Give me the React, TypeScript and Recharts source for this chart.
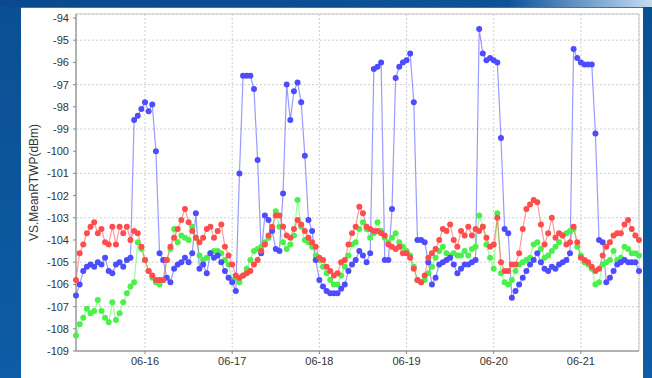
import React from "react";
import { LineChart, Line, XAxis, YAxis, CartesianGrid, ReferenceArea } from "recharts";

// hourly samples, first one at 06-15 05:00 (hour 5 counted from 06-15 00:00)
const FIRST_HOUR = 5;

const blueRtwp = [
  -106.5, -106.0, -105.4, -105.2, -105.1, -105.2, -105.0, -105.1, -104.8, -105.4,
  -105.5, -105.1, -105.0, -105.2, -104.9, -104.8, -98.6, -98.4, -98.1, -97.8,
  -98.2, -97.9, -100.0, -104.6, -104.9, -105.7, -105.9, -105.3, -105.1, -105.0,
  -104.8, -105.0, -104.6, -102.8, -105.3, -105.1, -105.5, -104.6, -104.8, -104.7,
  -105.0, -105.4, -105.7, -105.9, -106.3, -101.0, -96.6, -96.6, -96.6, -97.2,
  -100.4, -104.6, -102.9, -103.1, -103.6, -104.4, -104.5, -101.9, -97.0, -98.6,
  -97.3, -96.9, -97.8, -100.2, -103.1, -103.6, -104.9, -105.8, -106.1, -106.3,
  -106.4, -106.4, -106.4, -106.2, -106.0, -105.4, -105.1, -104.9, -104.5, -104.7,
  -105.0, -104.6, -96.3, -96.2, -96.0, -104.9, -104.9, -102.6, -96.7, -96.2,
  -96.0, -95.9, -95.6, -97.8, -104.0, -104.0, -104.1, -105.0, -106.0, -105.7,
  -105.1, -105.0, -104.9, -104.8, -105.1, -105.5, -105.3, -105.1, -105.1, -105.0,
  -104.9, -94.5, -95.6, -95.9, -95.8, -95.9, -96.0, -99.4, -103.5, -103.7,
  -106.6, -106.3, -106.0, -105.7, -105.4, -105.1, -104.9, -104.6, -105.0, -105.3,
  -105.4, -105.2, -105.3, -105.1, -105.0, -104.9, -104.6, -95.4, -95.8, -96.0,
  -96.1, -96.1, -96.1, -99.2, -104.0, -104.1, -105.9, -105.7, -105.4, -105.1,
  -105.0, -104.9, -105.0, -105.0, -105.0, -105.4,
];

const redRtwp = [
  -105.8, -104.6, -104.2, -103.7, -103.4, -103.2, -103.7, -103.5, -104.1, -104.2,
  -103.4, -104.2, -103.4, -103.7, -103.4, -104.0, -103.6, -103.7, -104.3, -104.9,
  -105.4, -105.6, -105.8, -105.8, -105.8, -104.9, -104.3, -103.9, -103.5, -103.1,
  -102.6, -103.2, -103.6, -103.9, -104.1, -103.9, -103.5, -103.4, -103.9, -103.6,
  -103.3, -104.3, -104.7, -105.1, -105.6, -105.7, -105.6, -105.5, -105.4, -105.1,
  -104.9, -104.5, -104.2, -103.8, -103.4, -102.9, -102.9, -103.4, -103.8, -103.9,
  -103.5, -103.1, -103.3, -103.6, -103.9, -104.1, -104.3, -104.8, -104.9, -105.2,
  -105.4, -105.6, -105.5, -105.0, -104.9, -104.2, -103.7, -103.4, -102.5, -102.8,
  -103.4, -103.5, -103.6, -103.6, -103.7, -103.8, -104.2, -104.3, -104.4, -104.3,
  -104.6, -104.6, -104.8, -105.3, -105.8, -105.9, -105.6, -104.8, -104.6, -104.4,
  -104.0, -103.5, -103.6, -103.3, -104.0, -104.3, -103.6, -103.8, -103.4, -103.8,
  -103.5, -103.6, -103.4, -103.9, -104.3, -104.2, -103.0, -105.0, -105.4, -105.4,
  -105.1, -105.1, -104.6, -103.5, -102.6, -102.4, -102.2, -102.3, -103.3, -104.2,
  -103.7, -103.0, -103.9, -103.7, -103.8, -104.2, -104.1, -103.4, -104.1, -104.8,
  -104.9, -105.0, -105.2, -105.4, -105.3, -104.7, -104.3, -104.1, -103.8, -103.7,
  -103.7, -103.3, -103.1, -103.5, -103.8, -104.0,
];

const greenRtwp = [
  -108.3, -107.8, -107.5, -107.1, -107.3, -107.2, -106.7, -107.2, -107.5, -107.7,
  -106.8, -107.6, -107.3, -106.8, -106.4, -106.1, -105.9, -104.1, -104.4, -104.9,
  -105.4, -105.7, -105.9, -106.0, -105.8, -104.9, -104.4, -103.5, -104.1, -103.8,
  -103.9, -104.0, -103.4, -103.9, -104.7, -104.9, -104.8, -104.6, -104.5, -104.5,
  -104.6, -104.9, -105.1, -105.8, -105.7, -105.9, -105.6, -105.3, -104.9, -104.5,
  -104.4, -104.3, -104.1, -103.9, -103.5, -102.7, -103.4, -104.1, -104.4, -104.2,
  -103.8, -102.2, -103.4, -104.0, -104.1, -104.3, -104.7, -104.9, -105.2, -105.5,
  -105.8, -106.0, -106.0, -105.6, -105.2, -104.7, -104.2, -104.1, -103.5, -103.2,
  -103.5, -103.9, -103.7, -103.2, -103.6, -103.9, -104.1, -103.9, -103.7, -104.1,
  -104.3, -104.5, -104.7, -105.2, -105.8, -105.9, -105.8, -105.5, -105.2, -104.8,
  -104.5, -104.3, -104.6, -104.7, -104.6, -104.7, -104.7, -104.5, -104.7, -104.4,
  -104.3, -102.9, -103.4, -104.2, -104.8, -105.3, -102.8, -105.5, -105.9, -106.0,
  -105.8, -105.4, -105.1, -105.0, -104.9, -104.8, -104.2, -104.1, -104.4, -104.8,
  -104.7, -104.5, -104.3, -104.1, -103.8, -103.7, -103.6, -103.5, -104.3, -104.7,
  -105.0, -105.1, -105.3, -106.0, -105.9, -105.1, -105.0, -104.9, -104.5, -104.9,
  -104.8, -104.3, -104.4, -104.6, -104.6, -104.7,
];

const dayTicks = [24, 48, 72, 96, 120, 144];
const dayLabels = ["06-16", "06-17", "06-18", "06-19", "06-20", "06-21"];
const dbmTicks = [-94, -95, -96, -97, -98, -99, -100, -101, -102, -103, -104, -105, -106, -107, -108, -109];

const data = blueRtwp.map((v, i) => ({
  t: FIRST_HOUR + i,
  blue: v,
  red: redRtwp[i],
  green: greenRtwp[i],
}));

const tickStyle = { fontFamily: "Liberation Sans, Arial, sans-serif", fontSize: 11, fill: "#333" };

export default function App() {
  return (
    <div
      style={{
        position: "absolute",
        left: 0,
        top: 0,
        width: 652,
        height: 378,
        overflow: "hidden",
        background: "linear-gradient(180deg, #0b4f93 0%, #0e5ca6 100%)",
      }}
    >
      <div
        style={{
          position: "absolute",
          left: 0,
          top: 0,
          width: 652,
          height: 7,
          background: "linear-gradient(90deg, #0a4a8c 0%, #0d5298 78%, #c4dcf2 100%)",
        }}
      />
      <div
        style={{
          position: "absolute",
          left: 21,
          top: 7,
          width: 622,
          height: 371,
          background: "#fff",
          borderTop: "1px solid #6a6a6a",
        }}
      >
        <LineChart
          width={622}
          height={370}
          data={data}
          margin={{ top: 6, right: 4, bottom: 0, left: 0 }}
        >
          <CartesianGrid stroke="#cfcfcf" strokeDasharray="2 2" />
          <ReferenceArea x1={FIRST_HOUR} x2={160} y1={-109} y2={-93.82} fill="none" stroke="#c8c8c8" />
          <XAxis
            dataKey="t"
            type="number"
            domain={[FIRST_HOUR, 160]}
            ticks={dayTicks}
            tickFormatter={(v: number) => dayLabels[dayTicks.indexOf(v)]}
            height={27}
            tick={tickStyle}
            tickSize={3}
            tickMargin={3}
            stroke="#888"
            tickLine={{ stroke: "#888" }}
          />
          <YAxis
            type="number"
            domain={[-109, -93.82]}
            ticks={dbmTicks}
            allowDataOverflow
            width={55}
            tick={tickStyle}
            tickSize={3}
            tickMargin={4}
            stroke="#888"
            tickLine={{ stroke: "#888" }}
            label={{
              value: "VS.MeanRTWP(dBm)",
              angle: -90,
              position: "insideLeft",
              offset: 13,
              style: { textAnchor: "middle", fontFamily: "Liberation Sans, Arial, sans-serif", fontSize: 12, fill: "#333" },
            }}
          />
          <Line
            type="linear"
            dataKey="green"
            stroke="#55ff55"
            strokeOpacity={0.6}
            strokeWidth={1.2}
            dot={{ r: 3, fill: "#4cf04c", stroke: "none", strokeWidth: 0 }}
            isAnimationActive={false}
          />
          <Line
            type="linear"
            dataKey="blue"
            stroke="#5555ff"
            strokeOpacity={0.6}
            strokeWidth={1.2}
            dot={{ r: 3, fill: "#4d4dff", stroke: "none", strokeWidth: 0 }}
            isAnimationActive={false}
          />
          <Line
            type="linear"
            dataKey="red"
            stroke="#ff5555"
            strokeOpacity={0.6}
            strokeWidth={1.2}
            dot={{ r: 3, fill: "#ff4d4d", stroke: "none", strokeWidth: 0 }}
            isAnimationActive={false}
          />
        </LineChart>
      </div>
    </div>
  );
}
